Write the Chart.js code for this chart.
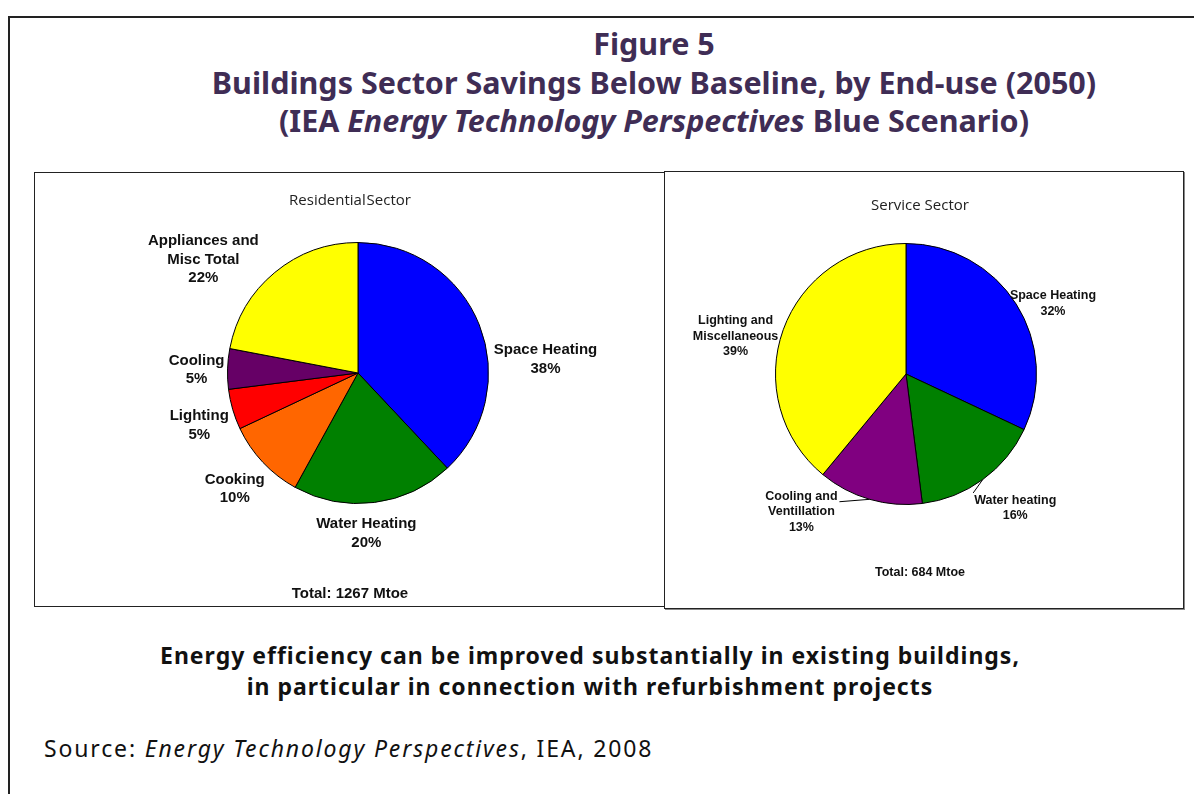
<!DOCTYPE html>
<html>
<head>
<meta charset="utf-8">
<script src="https://cdn.jsdelivr.net/npm/chart.js@4.4.1/dist/chart.umd.min.js"></script>
<style>
  body { margin: 0; width: 1194px; height: 794px; background: #fff; position: relative; overflow: hidden; font-family: 'Noto Sans', sans-serif; }
  .frame { position: absolute; left: 8px; top: 16px; width: 1200px; height: 800px; border-left: 2px solid #222; border-top: 2px solid #222; }
  .title { position: absolute; left: 114px; width: 1080px; text-align: center; color: #3f2d55; font-weight: bold; font-size: 30.5px; line-height: 38.5px; top: 24px; }
  .panel { position: absolute; border: 1px solid #222; background: #fff; }
  .panel canvas { position: absolute; left: 0; top: 0; }
  .ptitle { position: absolute; width: 100%; text-align: center; font-family: 'Open Sans', sans-serif; font-size: 15px; color: #222; }
  .ptotal { position: absolute; width: 100%; text-align: center; font-family: 'Liberation Sans', Arial, sans-serif; font-weight: bold; color: #111; }
  .note { position: absolute; left: 0; width: 1180px; text-align: center; font-weight: bold; font-size: 23px; letter-spacing: 1px; line-height: 31px; top: 640px; color: #111; }
  .source { position: absolute; left: 44px; top: 732px; font-size: 23px; letter-spacing: 1.85px; color: #111; }
</style>
</head>
<body>
<div class="frame"></div>
<div class="title">Figure 5<br>Buildings Sector Savings Below Baseline, by End-use (2050)<br>(IEA <i>Energy Technology Perspectives</i> Blue Scenario)</div>

<div class="panel" style="left:34px; top:172px; width:630px; height:433px;">
  <canvas id="resChart" width="630" height="433"></canvas>
  <div class="ptitle" style="left:0; top:16px; word-spacing:-3px;">Residential Sector</div>
  <div class="ptotal" id="resTotal" style="left:0; top:411px; font-size:15px;"></div>
</div>
<div class="panel" style="left:664px; top:171px; width:518px; height:436px; box-shadow: 1px 1px 0 #888;">
  <canvas id="svcChart" width="518" height="436"></canvas>
  <div class="ptitle" style="left:-4px; top:22px;">Service Sector</div>
  <div class="ptotal" id="svcTotal" style="left:-4px; top:393px; font-size:12.5px;"></div>
</div>

<div class="note">Energy efficiency can be improved substantially in existing buildings,<br>in particular in connection with refurbishment projects</div>
<div class="source">Source: <i>Energy Technology Perspectives</i>, IEA, 2008</div>

<script>
// Residential sector (percent of savings)
const resLabels = ['Space Heating', 'Water Heating', 'Cooking', 'Lighting', 'Cooling', ['Appliances and', 'Misc Total']];
const resValues = [38, 20, 10, 5, 5, 22];
const resColors = ['#0000ff', '#008000', '#ff6600', '#ff0000', '#660066', '#ffff00'];
const resTotal = 1267;

// Service sector
const svcLabels = ['Space Heating', 'Water heating', ['Cooling and', 'Ventillation'], ['Lighting and', 'Miscellaneous']];
const svcValues = [32, 16, 13, 39];
const svcColors = ['#0000ff', '#008000', '#800080', '#ffff00'];
const svcTotal = 684;

document.getElementById('resTotal').textContent = `Total: ${resTotal} Mtoe`;
document.getElementById('svcTotal').textContent = `Total: ${svcTotal} Mtoe`;

// Draws the "name / xx%" labels outside each slice
const sliceLabels = {
    id: 'sliceLabels',
    afterDatasetsDraw(chart, args, opts) {
        const ctx = chart.ctx;
        const meta = chart.getDatasetMeta(0);
        const data = chart.data.datasets[0].data;
        const total = data.reduce((a, b) => a + b, 0);
        ctx.save();
        ctx.font = opts.font;
        ctx.fillStyle = '#111';
        ctx.textAlign = 'center';
        ctx.textBaseline = 'middle';
        meta.data.forEach((arc, i) => {
            const p = arc.getProps(['x', 'y', 'startAngle', 'endAngle', 'outerRadius'], true);
            const mid = (p.startAngle + p.endAngle) / 2;
            const dx = Math.cos(mid), dy = Math.sin(mid);
            const n = (opts.nudge && opts.nudge[i]) || [0, 0];
            const lx = p.x + dx * (p.outerRadius + opts.gap) + n[0];
            const ly = p.y + dy * (p.outerRadius + opts.gap) + n[1];
            const lbl = chart.data.labels[i];
            const lines = (Array.isArray(lbl) ? lbl : [lbl]).concat([Math.round(data[i] / total * 100) + '%']);
            lines.forEach((t, k) => ctx.fillText(t, lx, ly + (k - (lines.length - 1) / 2) * opts.lineHeight));

            const lead = opts.leaders && opts.leaders[i];
            if (lead) {
                ctx.strokeStyle = '#000';
                ctx.lineWidth = 1;
                ctx.beginPath();
                ctx.moveTo(p.x + dx * p.outerRadius, p.y + dy * p.outerRadius);
                ctx.lineTo(lx + lead[0], ly + lead[1]);
                ctx.stroke();
            }
        });
        ctx.restore();
    }
};

function makePie(id, labels, values, colors, padding, labelOpts) {
    return new Chart(document.getElementById(id), {
        type: 'pie',
        data: {
            labels,
            datasets: [{
                data: values,
                backgroundColor: colors,
                borderColor: '#000',
                borderWidth: 1
            }]
        },
        options: {
            responsive: false,
            animation: false,
            layout: { padding },
            plugins: {
                legend: { display: false },
                tooltip: { enabled: false },
                sliceLabels: labelOpts
            }
        },
        plugins: [sliceLabels]
    });
}

makePie('resChart', resLabels, resValues, resColors,
    { left: 192, right: 176, top: 69, bottom: 102 },
    {
        font: 'bold 15px "Liberation Sans", Arial, sans-serif',
        lineHeight: 18.5,
        gap: 40,
        nudge: [[29, 49], [-13, -9], [1, -1], [5, 5], [9, 2], [-46, 18]]
    });

makePie('svcChart', svcLabels, svcValues, svcColors,
    { left: 110, right: 146, top: 71, bottom: 103 },
    {
        font: 'bold 12.5px "Liberation Sans", Arial, sans-serif',
        lineHeight: 15.5,
        gap: 40,
        nudge: [[3, 21], [9, -4], [-57, -26], [-10, 20]],
        leaders: [null, [-42, -15], [38, -10], null]
    });
</script>
</body>
</html>
